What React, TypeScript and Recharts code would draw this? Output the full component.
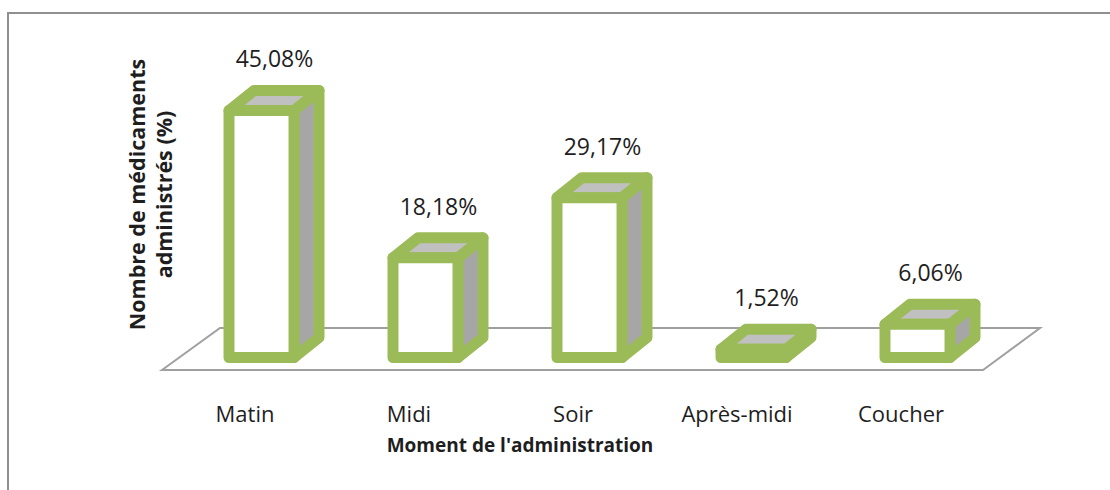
import React from 'react';
import { Bar, BarChart, LabelList, XAxis, YAxis } from 'recharts';

const moments = ['Matin', 'Midi', 'Soir', 'Après-midi', 'Coucher'];
const percents = [45.08, 18.18, 29.17, 1.52, 6.06];
const yDomain = [0, 50];

const W = 1110;
const H = 490;
const MARGIN = { top: 83.5, right: 127, bottom: 102.5, left: 103 };
const Y_AXIS_W = 60;
const X_AXIS_H = 30;
const PLOT_LEFT = MARGIN.left + Y_AXIS_W;
const PLOT_RIGHT = W - MARGIN.right;

const GREEN = '#9bbb59';
const TEXT = '#1e1e1e';
const FONT = '"Open Sans", "DejaVu Sans", sans-serif';

// 3d look
const DX = 25;
const DY = -20;
const SHIFT = 16;
const FACE_W = 65;

const data = moments.map((m, i) => ({ moment: m, value: percents[i] }));

function fmt(v: number) {
  return v.toFixed(2).replace('.', ',') + '%';
}

function Floor({ base }: { base: number }) {
  const front = base + 12.5;
  const back = base - 29.5;
  const pts = [
    [PLOT_LEFT - 1, front],
    [PLOT_LEFT + 57, back],
    [PLOT_RIGHT + 57, back],
    [PLOT_RIGHT, front],
  ]
    .map((p) => p.join(','))
    .join(' ');
  return <polygon points={pts} fill="#fff" stroke="#a0a0a0" strokeWidth={2} />;
}

function Box3D(props: any) {
  const { x, y, width, height, index } = props;
  const cx = x + width / 2 + SHIFT;
  const l = cx - FACE_W / 2;
  const r = cx + FACE_W / 2;
  const t = y;
  const b = y + height;
  const common = { stroke: GREEN, strokeWidth: 11, strokeLinejoin: 'round' as const };
  return (
    <g>
      {index === 0 && <Floor base={b} />}
      <path d={`M${r},${t} L${r + DX},${t + DY} L${r + DX},${b + DY} L${r},${b} Z`} fill="#a6a6a6" {...common} />
      <path d={`M${l},${t} L${l + DX},${t + DY} L${r + DX},${t + DY} L${r},${t} Z`} fill="#c0c0c0" {...common} />
      <rect x={l} y={t} width={FACE_W} height={Math.max(height, 0)} fill="#fff" {...common} />
    </g>
  );
}

function ValueLabel(props: any) {
  const { x, y, width, value } = props;
  return (
    <text
      x={x + width / 2 + SHIFT + 13}
      y={y - 52}
      textAnchor="middle"
      dominantBaseline="central"
      fontFamily={FONT}
      fontSize={23}
      fill={TEXT}
    >
      {fmt(Number(value))}
    </text>
  );
}

function CategoryTick(props: any) {
  const { x, y, payload } = props;
  return (
    <text x={x} y={y} dy={56.5} textAnchor="middle" fontFamily={FONT} fontSize={22} fill={TEXT}>
      {payload.value}
    </text>
  );
}

function XTitle(props: any) {
  const vb = props.viewBox;
  return (
    <text
      x={vb.x + vb.width / 2 - 53}
      y={452}
      textAnchor="middle"
      fontFamily={FONT}
      fontWeight="bold"
      fontSize={19}
      fill={TEXT}
    >
      Moment de l'administration
    </text>
  );
}

function YTitle(props: any) {
  const vb = props.viewBox;
  const cy = vb.y + vb.height / 2 - 26;
  return (
    <g fontFamily={FONT} fontWeight="bold" fontSize={21.5} fill={TEXT}>
      <text x={136} y={cy} transform={`rotate(-90 136 ${cy})`} textAnchor="middle" dominantBaseline="central">
        Nombre de médicaments
      </text>
      <text x={163} y={cy} transform={`rotate(-90 163 ${cy})`} textAnchor="middle" dominantBaseline="central">
        administrés (%)
      </text>
    </g>
  );
}

export default function App() {
  return (
    <div style={{ position: 'absolute', left: 0, top: 0, width: W, height: H, background: '#fff' }}>
      <div
        style={{
          position: 'absolute',
          left: 7,
          top: 12,
          width: W,
          height: H,
          borderTop: '2px solid #8f8f8f',
          borderLeft: '2px solid #8f8f8f',
        }}
      />
      <div style={{ position: 'absolute', left: 0, top: 0 }}>
        <BarChart width={W} height={H} data={data} margin={MARGIN} barSize={FACE_W}>
          <XAxis
            dataKey="moment"
            axisLine={false}
            tickLine={false}
            height={X_AXIS_H}
            interval={0}
            tick={<CategoryTick />}
            label={<XTitle />}
          />
          <YAxis
            domain={yDomain}
            width={Y_AXIS_W}
            axisLine={false}
            tickLine={false}
            tick={false}
            label={<YTitle />}
          />
          <Bar dataKey="value" shape={<Box3D />} isAnimationActive={false}>
            <LabelList dataKey="value" content={<ValueLabel />} />
          </Bar>
        </BarChart>
      </div>
    </div>
  );
}
